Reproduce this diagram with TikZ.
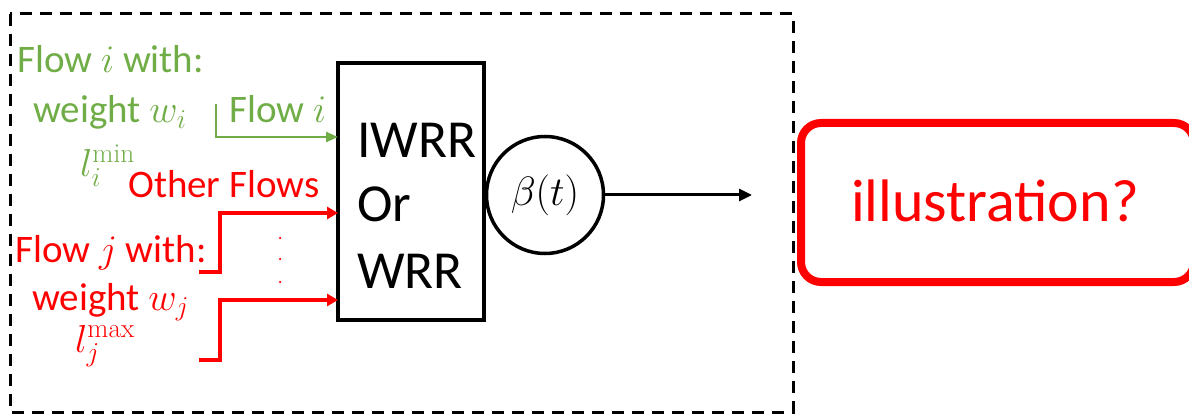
\documentclass[tikz,border=0pt]{standalone}
\usepackage{fix-cm}
\usepackage{fontspec}
\setmainfont{Carlito}
\setmathrm{Latin Modern Roman}
\usetikzlibrary{arrows.meta}
\definecolor{fgreen}{RGB}{112,173,71}
\definecolor{fred}{RGB}{255,0,0}
\tikzset{
  lbl/.style={anchor=base west, inner sep=0pt, font=\fontsize{39}{46}\selectfont},
  glbl/.style={lbl, text=fgreen},
  rlbl/.style={lbl, text=fred},
  schedtxt/.style={anchor=base west, inner sep=0pt, font=\fontsize{53.5}{62}\selectfont},
  garrow/.style={draw=fgreen, line width=2.5pt, -{Triangle[length=12pt,width=10pt]}},
  rarrow/.style={draw=fred, line width=4pt, -{Triangle[length=11pt,width=12pt]}},
  reddot/.style={circle, fill=fred, inner sep=0pt, minimum size=2.5pt},
}
\begin{document}
\begin{tikzpicture}[x=1pt,y=-1pt]
\clip (0,0) rectangle (1189,414);
\useasboundingbox (0,0) rectangle (1189,414);
% dashed frame
\draw[line width=3pt, dash pattern=on 12pt off 8pt] (10,14) rectangle (793,412);
% scheduler box
\node[draw, line width=3.5pt, minimum width=146pt, minimum height=257pt, inner sep=0pt] (sched) at (411,191.5) {};
\node[schedtxt] (t1) at (357,158) {IWRR};
\node[schedtxt] (t2) at (357,222) {Or};
\node[schedtxt] (t3) at (357,288) {WRR};
% beta circle
\node[draw, circle, line width=3.5pt, minimum size=117pt, inner sep=0pt, font=\fontsize{41}{48}\selectfont] (beta) at (545,195) {$\beta(t)$};
\coordinate (out) at (752,195);
\draw[line width=3pt, -{Triangle[length=13pt,width=12pt]}] (beta.east) -- (out);
% illustration box
\node[draw=fred, line width=8pt, rounded corners=20pt, minimum width=393pt, minimum height=159pt, anchor=west, inner sep=0pt] (ill) at (797,202.5) {};
\node[text=fred, font=\fontsize{60}{70}\selectfont, inner sep=0pt, anchor=base] (illt) at (995,222) {illustration?};
% green flow
\node[glbl] (gfw) at (17,73) {Flow $i$ with:};
\node[glbl] (gw) at (33,123) {weight $w_i$};
\node[glbl] (gl) at (80,177) {$l_i^{\mathrm{min}}$};
\node[glbl] (gf) at (229,123) {Flow $i$};
\coordinate (gs) at (216,104);
\coordinate (gin) at (338,137);
\draw[garrow] (gs) |- (gin);
% red flows
\node[rlbl] (other) at (128,198) {Other Flows};
\node[rlbl] (rfw) at (15,262) {Flow $j$ with:};
\node[rlbl] (rw) at (32,310) {weight $w_j$};
\node[rlbl] (rl) at (75,352) {$l_j^{\mathrm{max}}$};
\coordinate (r1s) at (199,272);
\coordinate (r1m) at (220,272);
\coordinate (r1in) at (338,213);
\coordinate (r2s) at (199,360);
\coordinate (r2m) at (220,360);
\coordinate (r2in) at (338,300);
\draw[rarrow] (r1s) -- (r1m) |- (r1in);
\draw[rarrow] (r2s) -- (r2m) |- (r2in);
\node[reddot] (d1) at (280,238) {};
\node[reddot] (d2) at (280,259) {};
\node[reddot] (d3) at (280,282) {};
\end{tikzpicture}
\end{document}
